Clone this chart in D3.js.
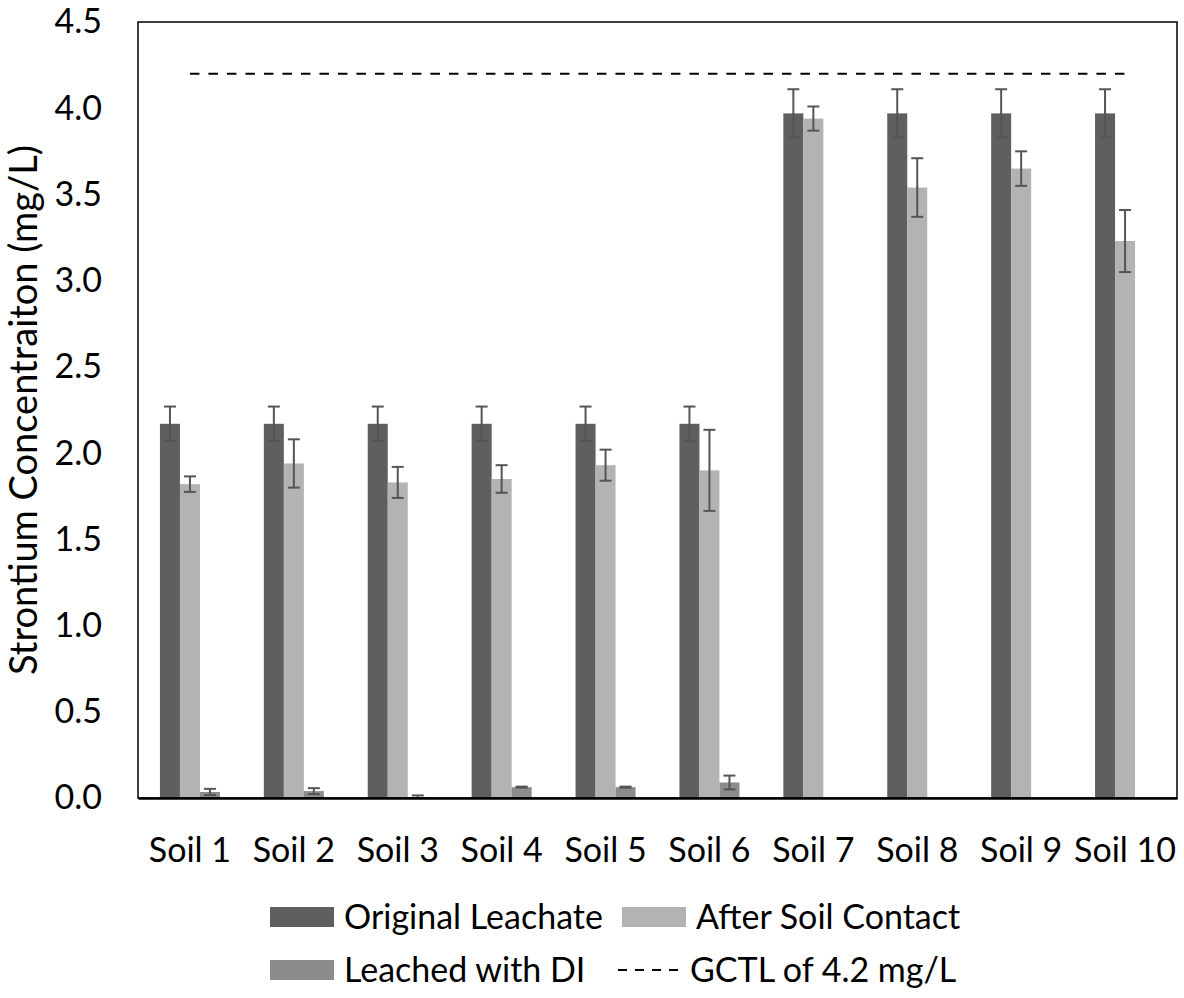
<!DOCTYPE html>
<html><head><meta charset="utf-8">
<script src="https://cdn.jsdelivr.net/npm/d3@7"></script>
<style>
body{margin:0;background:#fff;}
text{font-family:Lato, "Noto Sans", sans-serif;fill:#000;}
</style></head>
<body><svg id="c" width="1184" height="998"></svg>
<script>
const categories = ["Soil 1","Soil 2","Soil 3","Soil 4","Soil 5","Soil 6","Soil 7","Soil 8","Soil 9","Soil 10"];
const seriesNames = ["Original Leachate","After Soil Contact","Leached with DI"];
const original      = [2.17,2.17,2.17,2.17,2.17,2.17,3.97,3.97,3.97,3.97];
const originalErr   = [0.10,0.10,0.10,0.10,0.10,0.10,0.14,0.14,0.14,0.14];
const afterContact  = [1.82,1.94,1.83,1.85,1.93,1.90,3.94,3.54,3.65,3.23];
const afterErr      = [0.045,0.14,0.09,0.08,0.09,0.235,0.07,0.17,0.10,0.18];
const leached       = [0.035,0.04,0.005,0.063,0.063,0.09,null,null,null,null];
const leachedErr    = [0.018,0.017,0.01,0.003,0.003,0.04,null,null,null,null];
const gctl = 4.2;
const yTicks = [0,0.5,1.0,1.5,2.0,2.5,3.0,3.5,4.0,4.5];

const colors = ["#5f5f5f","#b3b3b3","#8c8c8c"];
const svg = d3.select("#c");
const L=138, R=1177, T=22, B=798;
const FS = 34;

const x0 = d3.scaleBand().domain(categories).range([L,R]).paddingInner(0).paddingOuter(0);
const x1 = d3.scaleBand().domain(seriesNames).range([0,x0.bandwidth()]).paddingInner(0).paddingOuter(1.0975);
const y = d3.scaleLinear().domain([0,4.5]).range([B,T]);

const values = [original, afterContact, leached];
const errs = [originalErr, afterErr, leachedErr];

// bars
seriesNames.forEach((s,si)=>{
  const g = svg.append("g");
  categories.forEach((c,ci)=>{
    const v = values[si][ci];
    if(v==null) return;
    g.append("rect")
      .attr("x", x0(c)+x1(s))
      .attr("y", y(v))
      .attr("width", x1.bandwidth())
      .attr("height", B-y(v))
      .attr("fill", colors[si]);
  });
});
// error bars
seriesNames.forEach((s,si)=>{
  const g = svg.append("g").attr("stroke","#555").attr("stroke-width",2);
  categories.forEach((c,ci)=>{
    const v = values[si][ci], e = errs[si][ci];
    if(v==null || e==null) return;
    const cx = x0(c)+x1(s)+x1.bandwidth()/2;
    const lo = Math.max(0, v-e);
    g.append("line").attr("x1",cx).attr("x2",cx).attr("y1",y(v+e)).attr("y2",y(lo));
    g.append("line").attr("x1",cx-6).attr("x2",cx+6).attr("y1",y(v+e)).attr("y2",y(v+e));
    g.append("line").attr("x1",cx-6).attr("x2",cx+6).attr("y1",y(lo)).attr("y2",y(lo));
  });
});

// GCTL line
const line = d3.line().x(d=>x0(d)+x0.bandwidth()/2).y(()=>y(gctl));
svg.append("path").attr("d", line(categories))
  .attr("fill","none").attr("stroke","#000").attr("stroke-width",2).attr("stroke-dasharray","9.5,9");

// frame
svg.append("rect").attr("x",L).attr("y",T).attr("width",R-L).attr("height",B-T)
  .attr("fill","none").attr("stroke","#000").attr("stroke-width",1.5);

// x axis
const xAxis = svg.append("g").attr("transform",`translate(0,${B})`)
  .call(d3.axisBottom(x0).tickSize(0).tickPadding(40));
xAxis.select(".domain").attr("stroke","#000").attr("stroke-width",2.5);
xAxis.selectAll("text").attr("font-size",FS).attr("font-family","Lato, 'Noto Sans', sans-serif").attr("fill","#000");

// y axis
const yAxis = svg.append("g").attr("transform",`translate(${L},0)`)
  .call(d3.axisLeft(y).tickValues(yTicks).tickFormat(d3.format(".1f")).tickSize(0).tickPadding(36));
yAxis.select(".domain").remove();
yAxis.selectAll("text").attr("font-size",FS).attr("font-family","Lato, 'Noto Sans', sans-serif").attr("fill","#000");

// y title
svg.append("text").attr("transform",`translate(37,${(T+B)/2}) rotate(-90)`)
  .attr("text-anchor","middle").attr("font-size",38).text("Strontium Concentraiton (mg/L)");

// legend
const leg = svg.append("g");
const items = [
  {name:seriesNames[0], type:"rect", color:colors[0], x:270, y:917},
  {name:seriesNames[1], type:"rect", color:colors[1], x:622, y:917},
  {name:seriesNames[2], type:"rect", color:colors[2], x:270, y:970},
  {name:"GCTL of 4.2 mg/L", type:"line", x:618, y:970}
];
items.forEach(it=>{
  if(it.type==="rect"){
    leg.append("rect").attr("x",it.x).attr("y",it.y-10).attr("width",64).attr("height",20).attr("fill",it.color);
  } else {
    leg.append("line").attr("x1",it.x).attr("x2",it.x+68).attr("y1",it.y).attr("y2",it.y)
      .attr("stroke","#000").attr("stroke-width",2).attr("stroke-dasharray","9,8");
  }
  leg.append("text").attr("x",it.x+(it.type==="rect"?74:72)).attr("y",it.y).attr("dy","0.35em")
    .attr("font-size",FS).text(it.name);
});
</script></body></html>
